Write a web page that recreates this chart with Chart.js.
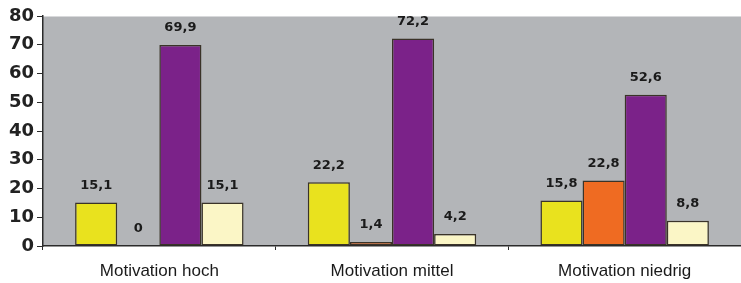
<!DOCTYPE html>
<html>
<head>
<meta charset="utf-8">
<script src="https://cdn.jsdelivr.net/npm/chart.js@4"></script>
<style>
    html, body { margin: 0; padding: 0; background: #ffffff; }
    #wrap { width: 741px; height: 283px; }
</style>
</head>
<body>
<div id="wrap"><canvas id="motivationChart"></canvas></div>
<script>
// values
const categories = ['Motivation hoch', 'Motivation mittel', 'Motivation niedrig'];
const seriesYellow = [15.1, 22.2, 15.8];
const seriesOrange = [0, 1.4, 22.8];
const seriesPurple = [69.9, 72.2, 52.6];
const seriesPale = [15.1, 4.2, 8.8];
const yTicks = [0, 10, 20, 30, 40, 50, 60, 70, 80];

const colors = ['#e9e21e', '#ef6b22', '#7b2289', '#fbf6c6'];

// grey plot area
const plotBackground = {
    id: 'plotBackground',
    beforeDraw(chart) {
        const { ctx, chartArea: a } = chart;
        ctx.save();
        ctx.fillStyle = '#b3b5b8';
        ctx.fillRect(a.left, a.top, a.right - a.left, a.bottom - a.top);
        ctx.strokeStyle = '#d8d9db';
        ctx.lineWidth = 1;
        ctx.beginPath();
        ctx.moveTo(a.left, a.top + 0.5);
        ctx.lineTo(a.right, a.top + 0.5);
        ctx.stroke();
        ctx.restore();
    }
};

// value labels above the bars (comma decimals)
const valueLabels = {
    id: 'valueLabels',
    afterDatasetsDraw(chart) {
        const ctx = chart.ctx;
        ctx.save();
        ctx.font = 'bold 13px "DejaVu Sans", sans-serif';
        ctx.fillStyle = '#1a1a1a';
        ctx.textAlign = 'center';
        ctx.textBaseline = 'middle';
        chart.data.datasets.forEach((ds, i) => {
            chart.getDatasetMeta(i).data.forEach((bar, j) => {
                const txt = String(ds.data[j]).replace('.', ',');
                ctx.fillText(txt, bar.x, bar.y - 17);
            });
        });
        ctx.restore();
    }
};

new Chart(document.getElementById('motivationChart'), {
    type: 'bar',
    data: {
        labels: categories,
        datasets: [seriesYellow, seriesOrange, seriesPurple, seriesPale].map((d, i) => ({
            data: d,
            backgroundColor: colors[i],
            borderColor: '#3a3328',
            borderWidth: 1.5,
            borderSkipped: false,
            categoryPercentage: 0.724,
            barPercentage: 1
        }))
    },
    options: {
        responsive: true,
        maintainAspectRatio: false,
        animation: false,
        layout: { padding: { top: 16, right: 0, left: 0, bottom: 0 } },
        plugins: {
            legend: { display: false },
            tooltip: { enabled: false }
        },
        scales: {
            x: {
                afterFit: s => { s.height = 37; },
                border: { color: '#2a2a2a', width: 1.5 },
                grid: { display: true, offset: true, drawOnChartArea: false, tickLength: 4, color: '#2a2a2a' },
                ticks: {
                    color: '#1a1a1a',
                    padding: 11,
                    font: { family: '"Liberation Sans", Arial, sans-serif', size: 17 }
                }
            },
            y: {
                min: 0,
                max: 80,
                afterFit: s => { s.width = 43; },
                afterBuildTicks: s => { s.ticks = yTicks.map(v => ({ value: v })); },
                border: { color: '#2a2a2a', width: 1.5 },
                grid: { drawOnChartArea: false, tickLength: 6, color: '#2a2a2a' },
                ticks: {
                    color: '#222222',
                    padding: 3,
                    font: { family: '"DejaVu Sans", sans-serif', size: 18, weight: 'bold' }
                }
            }
        }
    },
    plugins: [plotBackground, valueLabels]
});
</script>
</body>
</html>
